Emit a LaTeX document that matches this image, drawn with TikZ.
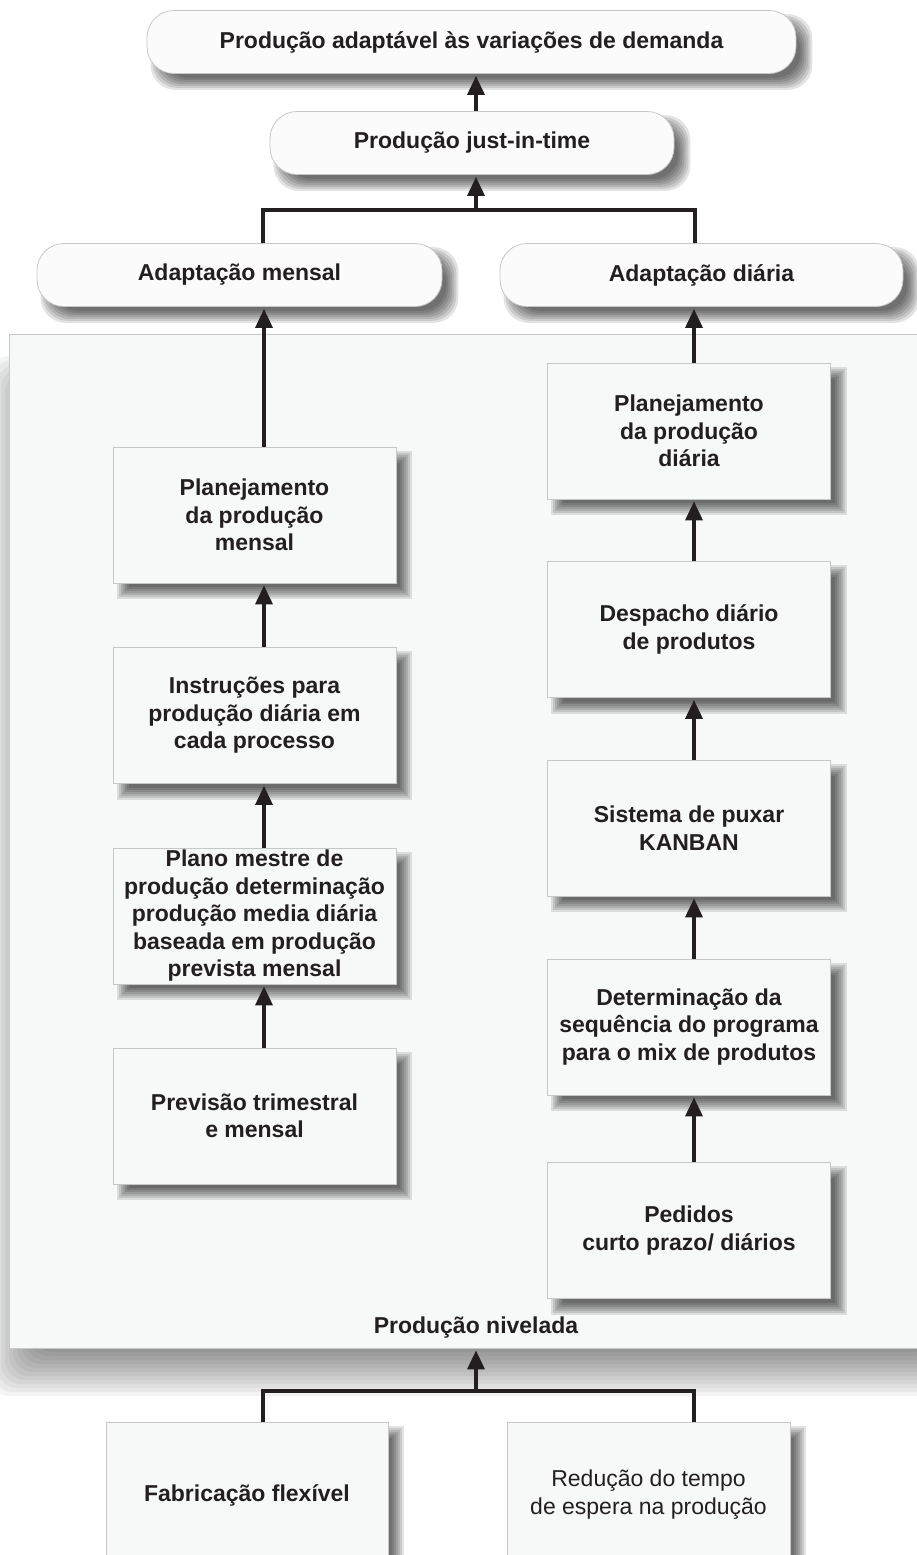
\documentclass[tikz,border=0pt]{standalone}
\usepackage{fontspec}
\setmainfont{Liberation Sans}
\usepackage{tikz}
\usetikzlibrary{arrows.meta, calc}

\definecolor{ink}{HTML}{231F20}
\definecolor{boxfill}{HTML}{F7F8F8}
\definecolor{pillfill}{HTML}{FBFBFB}
\definecolor{panelfill}{HTML}{F7F8F8}
\definecolor{boxline}{HTML}{C6C8C8}

\pgfdeclarelayer{panellayer}
\pgfdeclarelayer{shadelayer}
\pgfsetlayers{panellayer,shadelayer,main}

\newcommand{\softshade}[2]{%
  \foreach \k in {-6,-4,...,6}
    \fill[black,opacity=0.11,rounded corners=#2]
      ($(#1.north west)+(10+\k,10+\k)$) rectangle ($(#1.south east)+(10-\k,10-\k)$);}

\tikzset{
  box/.style={rectangle,draw=boxline,fill=boxfill,line width=0.8pt,
              minimum width=283pt,minimum height=136pt,inner sep=0pt,
              align=center,text=ink,
              font=\fontsize{23}{27.5}\selectfont\bfseries},
  pill/.style={box,fill=pillfill,rounded corners=27pt,minimum height=63pt},
  link/.style={line width=3.5pt,draw=ink},
  uparrow/.style={link,-{Triangle[length=19pt,width=17pt]},shorten >=2pt}
}

\begin{document}
\begin{tikzpicture}[x=1pt,y=-1pt]
  \useasboundingbox (0,0) rectangle (916,1555);
  \clip (0,0) rectangle (916,1555);

  \begin{pgfonlayer}{panellayer}
    \foreach \k in {-24,-20,...,24}
      \fill[black,opacity=0.045,rounded corners=20pt]
        (13+\k,380+\k) rectangle (953-\k,1372-\k);
    \node[rectangle,draw=boxline,fill=panelfill,line width=0.8pt,
          minimum width=940pt,minimum height=1014pt] (panel) at (479,841) {};
  \end{pgfonlayer}
  \node[font=\fontsize{23}{27.5}\selectfont\bfseries,text=ink] (nivel) at (476,1328) {Produção nivelada};

  \node[pill,minimum width=649pt] (top) at (471.5,42) {Produção adaptável às variações de demanda};
  \node[pill,minimum width=404pt] (jit) at (472,143) {Produção just-in-time};
  \node[pill,minimum width=405pt] (adm) at (239.5,275) {Adaptação mensal};
  \node[pill,minimum width=403pt] (add) at (701.5,275) {Adaptação diária};

  \node[box] (planm) at (254.5,515)  {Planejamento\\da produção\\mensal};
  \node[box] (instr) at (254.5,715.5) {Instruções para\\produção diária em\\cada processo};
  \node[box] (mestre) at (254.5,916) {Plano mestre de\\produção determinação\\produção media diária\\baseada em produção\\prevista mensal};
  \node[box] (prev) at (254.5,1116)  {Previsão trimestral\\e mensal};

  \node[box] (pland) at (689,431)    {Planejamento\\da produção\\diária};
  \node[box] (desp) at (689,629.5)   {Despacho diário\\de produtos};
  \node[box] (kanban) at (689,828)   {Sistema de puxar\\KANBAN};
  \node[box] (seq) at (689,1027)     {Determinação da\\sequência do programa\\para o mix de produtos};
  \node[box] (ped) at (689,1230.5)   {Pedidos\\curto prazo/ diários};

  \node[box,minimum width=282pt,minimum height=146pt] (fab) at (247,1495) {Fabricação flexível};
  \node[box,minimum height=146pt,font=\fontsize{23}{28}\selectfont] (red) at (648.5,1495)
        {Redução do tempo\\de espera na produção};

  \begin{pgfonlayer}{shadelayer}
    \foreach \n in {planm,instr,mestre,prev,pland,desp,kanban,seq,ped,fab,red}
      {\softshade{\n}{0pt}}
    \foreach \n in {top,jit,adm,add}
      {\softshade{\n}{25pt}}
  \end{pgfonlayer}

  \coordinate (mx) at (264,0);
  \coordinate (dx) at (694,0);
  \coordinate (cx) at (476,0);
  \coordinate (tl) at (263,210);
  \coordinate (tr) at (695,210);
  \coordinate (bl) at (263,1391);
  \coordinate (br) at (694,1391);

  \draw[uparrow] (jit.north -| cx) -- (top.south -| cx);
  \draw[link] (adm.north -| tl) -- (tl) -- (tr) -- (add.north -| tr);
  \draw[uparrow] (tl -| cx) -- (jit.south -| cx);

  \draw[uparrow] (planm.north -| mx) -- (adm.south -| mx);
  \draw[uparrow] (instr.north -| mx) -- (planm.south -| mx);
  \draw[uparrow] (mestre.north -| mx) -- (instr.south -| mx);
  \draw[uparrow] (prev.north -| mx) -- (mestre.south -| mx);

  \draw[uparrow] (pland.north -| dx) -- (add.south -| dx);
  \draw[uparrow] (desp.north -| dx) -- (pland.south -| dx);
  \draw[uparrow] (kanban.north -| dx) -- (desp.south -| dx);
  \draw[uparrow] (seq.north -| dx) -- (kanban.south -| dx);
  \draw[uparrow] (ped.north -| dx) -- (seq.south -| dx);

  \draw[link] (fab.north -| bl) -- (bl) -- (br) -- (red.north -| br);
  \draw[uparrow] (bl -| cx) -- (panel.south -| cx);
\end{tikzpicture}
\end{document}
